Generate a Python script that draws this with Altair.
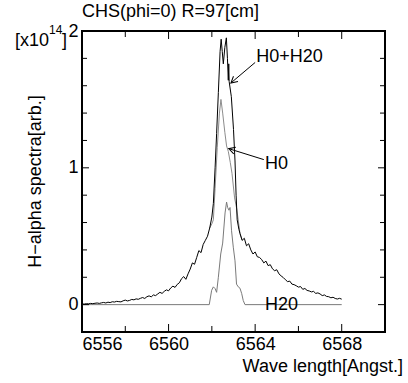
import math
import altair as alt
import pandas as pd

# ---------------- data ----------------
# H0+H20 (measured, black)
wl_sum = [
    6556.0, 6556.1, 6556.2, 6556.3, 6556.4, 6556.5, 6556.6, 6556.7, 6556.8, 6556.9,
    6557.0, 6557.1, 6557.2, 6557.3, 6557.4, 6557.5, 6557.6, 6557.7, 6557.8, 6557.9,
    6558.0, 6558.1, 6558.2, 6558.3, 6558.4, 6558.5, 6558.6, 6558.7, 6558.8, 6558.9,
    6559.0, 6559.1, 6559.2, 6559.3, 6559.4, 6559.5, 6559.6, 6559.7, 6559.8, 6559.9,
    6560.0, 6560.1, 6560.2, 6560.3, 6560.4, 6560.5, 6560.6, 6560.7, 6560.8, 6560.9,
    6561.0, 6561.1, 6561.2, 6561.3, 6561.4, 6561.5, 6561.6, 6561.7, 6561.8, 6561.9,
    6562.0, 6562.07, 6562.15, 6562.22, 6562.30, 6562.38, 6562.43, 6562.48, 6562.53,
    6562.60, 6562.67, 6562.72, 6562.76, 6562.78, 6562.80, 6562.90, 6563.00, 6563.07,
    6563.12, 6563.17, 6563.25, 6563.30,
    6563.4, 6563.5, 6563.6, 6563.7, 6563.8, 6563.9, 6564.0, 6564.1, 6564.2, 6564.3,
    6564.4, 6564.5, 6564.6, 6564.7, 6564.8, 6564.9, 6565.0, 6565.1, 6565.2, 6565.3,
    6565.4, 6565.5, 6565.6, 6565.7, 6565.8, 6565.9, 6566.0, 6566.1, 6566.2, 6566.3,
    6566.4, 6566.5, 6566.6, 6566.7, 6566.8, 6566.9, 6567.0, 6567.1, 6567.2, 6567.3,
    6567.4, 6567.5, 6567.6, 6567.7, 6567.8, 6567.9, 6568.0,
]
val_sum = [
    0.005, 0.004, 0.007, 0.006, 0.009, 0.007, 0.010, 0.012, 0.009, 0.013,
    0.016, 0.012, 0.018, 0.015, 0.021, 0.019, 0.024, 0.022, 0.020, 0.028,
    0.033, 0.027, 0.031, 0.038, 0.035, 0.042, 0.039, 0.046, 0.052, 0.045,
    0.058, 0.064, 0.057, 0.071, 0.066, 0.078, 0.090, 0.082, 0.097, 0.108,
    0.101, 0.122, 0.135, 0.126, 0.148, 0.160, 0.190, 0.205, 0.185, 0.225,
    0.260, 0.305, 0.295, 0.345, 0.395, 0.380, 0.440, 0.470, 0.500, 0.560,
    0.640, 0.740, 1.000, 1.250, 1.550, 1.850, 1.940, 1.850, 1.760,
    1.880, 1.950, 1.800, 1.640, 1.760, 1.630, 1.520, 1.280, 1.050,
    0.800, 0.620, 0.550, 0.520,
    0.470, 0.485, 0.430, 0.445, 0.400, 0.370, 0.385, 0.350, 0.345, 0.330,
    0.305, 0.318, 0.285, 0.292, 0.262, 0.248, 0.255, 0.225, 0.210, 0.198,
    0.182, 0.168, 0.172, 0.150, 0.146, 0.138, 0.128, 0.132, 0.112, 0.118,
    0.104, 0.100, 0.093, 0.097, 0.082, 0.086, 0.078, 0.066, 0.071, 0.060,
    0.058, 0.050, 0.054, 0.045, 0.041, 0.046, 0.040,
]

# H0 (gray, central part; identical to black in the wings)
wl_h0 = [6561.9, 6562.0, 6562.07, 6562.15, 6562.25, 6562.35, 6562.42, 6562.50,
         6562.60, 6562.68, 6562.76, 6562.85, 6562.93, 6563.05, 6563.15, 6563.25,
         6563.30, 6563.4]
val_h0 = [0.560, 0.590, 0.620, 0.850, 1.150, 1.400, 1.500, 1.400,
          1.260, 1.160, 1.120, 1.040, 0.960, 0.780, 0.700, 0.580,
          0.520, 0.470]

# H20 (gray)
wl_h20 = [6556.0, 6561.88, 6561.99, 6562.07, 6562.15, 6562.22, 6562.30, 6562.41,
          6562.50, 6562.61, 6562.68, 6562.73, 6562.79, 6562.84, 6562.91, 6562.99,
          6563.07, 6563.14, 6563.22, 6563.30, 6563.38, 6563.45, 6563.53, 6568.0]
val_h20 = [0.0, 0.0, 0.105, 0.130, 0.117, 0.090, 0.200, 0.370,
           0.450, 0.670, 0.750, 0.710, 0.690, 0.710, 0.540, 0.420,
           0.320, 0.150, 0.130, 0.120, 0.080, 0.030, 0.0, 0.0]

# axis ticks
x_ticks = [6558, 6560, 6562, 6564, 6566, 6568]
x_major = [6556, 6560, 6564, 6568]
y_ticks = [0.0, 0.2, 0.4, 0.6, 0.8, 1.0, 1.2, 1.4, 1.6, 1.8]
y_major = [0, 1, 2]

# annotations
ann_labels = ["H0+H20", "H0", "H20"]
ann_wl = [6564.05, 6564.45, 6564.45]
ann_v = [1.81, 1.03, 0.0]
arr_from_wl = [6564.0, 6564.4]
arr_from_v = [1.77, 1.06]
arr_to_wl = [6562.88, 6562.78]
arr_to_v = [1.62, 1.14]

# ---------------- chart ----------------
W, H = 303, 301
FONT = "Liberation Sans"
xs = alt.Scale(domain=[6556, 6570], nice=False, zero=False)
ys = alt.Scale(domain=[-0.2, 2.0], nice=False, zero=False)

df_sum = pd.DataFrame({"wl": wl_sum, "v": val_sum})
df_h0 = pd.DataFrame({"wl": wl_h0, "v": val_h0})
df_h20 = pd.DataFrame({"wl": wl_h20, "v": val_h20})

px_per_x = W / 14.0
px_per_y = H / 2.2
angles = []
for fx, fy, tx, ty in zip(arr_from_wl, arr_from_v, arr_to_wl, arr_to_v):
    dx = (tx - fx) * px_per_x
    dy = -(ty - fy) * px_per_y
    angles.append(math.degrees(math.atan2(dy, dx)) % 360)
df_arr = pd.DataFrame({"x1": arr_from_wl, "y1": arr_from_v,
                       "x2": arr_to_wl, "y2": arr_to_v, "ang": angles})
df_ann = pd.DataFrame({"t": ann_labels, "wl": ann_wl, "v": ann_v})

x_axis = alt.Axis(values=x_major, format="d", tickSize=0, domain=False,
                  grid=False, labelFontSize=18, labelFont=FONT,
                  labelColor="black", labelPadding=3, title=None)
y_axis = alt.Axis(values=y_major, format="d", tickSize=0, domain=False,
                  grid=False, labelFontSize=18, labelFont=FONT,
                  labelColor="black", labelPadding=4, title=None)


def X(field):
    return alt.X(field, scale=xs, axis=x_axis)


def Y(field):
    return alt.Y(field, scale=ys, axis=y_axis)


h20_line = alt.Chart(df_h20).mark_line(color="#7a7a7a", strokeWidth=1).encode(
    x=X("wl:Q"), y=Y("v:Q"))
h0_line = alt.Chart(df_h0).mark_line(color="#8c8c8c", strokeWidth=1).encode(
    x=X("wl:Q"), y=Y("v:Q"))
sum_line = alt.Chart(df_sum).mark_line(color="black", strokeWidth=1).encode(
    x=X("wl:Q"), y=Y("v:Q"))

# inward ticks (bottom, top, left, right)
df_xt = pd.DataFrame({"t": x_ticks, "major": [t in x_major for t in x_ticks]})
df_yt = pd.DataFrame({"t": y_ticks, "major": [t in y_major for t in y_ticks]})


def xt(major, top):
    d = df_xt[df_xt.major == major]
    L = 8 if major else 6
    if top:
        yy, yy2 = 0, L
    else:
        yy, yy2 = H - L, H
    return alt.Chart(d).mark_rule(color="black", strokeWidth=1).encode(
        x=X("t:Q"), y=alt.value(yy), y2=alt.value(yy2))


def yt(major, right):
    d = df_yt[df_yt.major == major]
    L = 7 if major else 5
    if right:
        xx, xx2 = W - L, W
    else:
        xx, xx2 = 0, L
    return alt.Chart(d).mark_rule(color="black", strokeWidth=1).encode(
        y=Y("t:Q"), x=alt.value(xx), x2=alt.value(xx2))


ticks = [xt(m, t) for m in (True, False) for t in (True, False)] + \
        [yt(m, r) for m in (True, False) for r in (True, False)]

arrows = alt.Chart(df_arr).mark_rule(color="black", strokeWidth=1).encode(
    x=X("x1:Q"), x2="x2:Q", y=Y("y1:Q"), y2="y2:Q")
heads = alt.Chart(df_arr).mark_point(
    shape="M -1 -0.55 L 0 0 L -1 0.55", filled=False, color="black",
    strokeWidth=1, size=160, opacity=1,
).encode(
    x=X("x2:Q"), y=Y("y2:Q"),
    angle=alt.Angle("ang:Q", scale=None),
)
ann = alt.Chart(df_ann).mark_text(
    align="left", baseline="middle", fontSize=18, font=FONT, color="black"
).encode(x=X("wl:Q"), y=Y("v:Q"), text="t:N")


def label(txt, x, y, size=18, align="left", angle=0):
    kw = dict(align=align, baseline="middle", fontSize=size, font=FONT,
              color="black")
    if angle:
        kw["angle"] = angle
    return alt.Chart(pd.DataFrame({"t": [txt]})).mark_text(**kw).encode(
        x=alt.value(x), y=alt.value(y), text="t:N")


texts = [
    label("CHS(phi=0) R=97[cm]", 0, -19),
    label("[x10", -33, 10, align="right"),
    label("14", -33, -1, size=12),
    label("]", -20, 10),
    label("H\u2212alpha spectra[arb.]", -46, H / 2, align="center", angle=270),
    label("Wave length[Angst.]", 321, H + 35, align="right"),
]

chart = alt.layer(
    h20_line, h0_line, sum_line, *ticks, arrows, heads, ann, *texts
).properties(
    width=W, height=H,
    padding={"left": 82, "top": 31, "right": 23, "bottom": 51},
    autosize=alt.AutoSizeParams(type="none"),
).configure_view(stroke="black", strokeWidth=2)

chart.save("out.html", embed_options={"renderer": "svg", "actions": False})
